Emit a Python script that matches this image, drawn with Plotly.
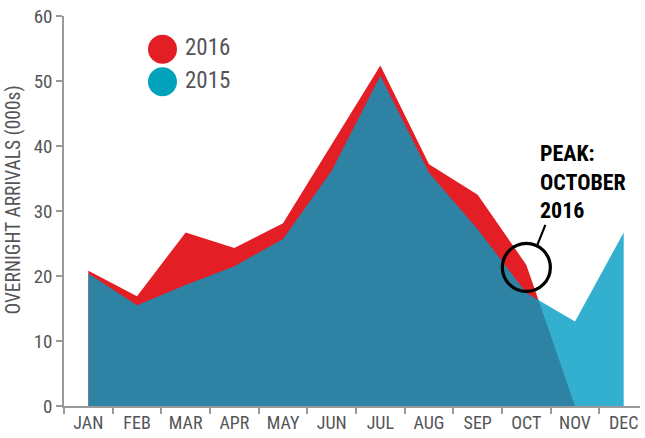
import plotly.graph_objects as go

months = ["JAN", "FEB", "MAR", "APR", "MAY", "JUN", "JUL", "AUG", "SEP", "OCT", "NOV", "DEC"]
arrivals_2016 = [20.8, 16.9, 26.7, 24.3, 28.1, 40.2, 52.4, 37.2, 32.5, 21.7, 0.0, None]
arrivals_2015 = [20.4, 15.5, 18.6, 21.5, 25.7, 36.2, 50.8, 35.9, 27.2, 17.4, 13.0, 26.7]
y_ticks = [0, 10, 20, 30, 40, 50, 60]

RED = "#e31e24"
TEAL_A = "rgba(0,155,195,0.8)"
LEGEND_TEAL = "#00a3bb"
GREY = "#555558"
AXIS = "#9a9a9a"
FONT = "Roboto Condensed, Liberation Sans Narrow, Arial Narrow, Roboto, sans-serif"

fig = go.Figure()
fig.add_trace(go.Scatter(x=months, y=arrivals_2016, mode="lines", fill="tozeroy",
                         line=dict(width=0, color=RED), fillcolor=RED, name="2016",
                         hoverinfo="skip"))
fig.add_trace(go.Scatter(x=months, y=arrivals_2015, mode="lines", fill="tozeroy",
                         line=dict(width=0, color=TEAL_A), fillcolor=TEAL_A, name="2015",
                         hoverinfo="skip"))

shapes = []
# legend circles
for yc, col in [(0.9145, RED), (0.8312, LEGEND_TEAL)]:
    shapes.append(dict(type="circle", xref="paper", yref="paper", xsizemode="pixel", ysizemode="pixel",
                       xanchor=0.171, yanchor=yc, x0=-14.5, x1=14.5, y0=-14.5, y1=14.5,
                       fillcolor=col, line=dict(width=0), layer="above"))
# peak circle around October 2016
oct_val = arrivals_2016[months.index("OCT")]
shapes.append(dict(type="circle", xref="x", yref="y", xsizemode="pixel", ysizemode="pixel",
                   xanchor="OCT", yanchor=oct_val, x0=-24, x1=24, y0=-26.5, y1=21.5,
                   line=dict(color="black", width=3.2), fillcolor="rgba(0,0,0,0)", layer="above"))
shapes.append(dict(type="line", xref="x", yref="y", xsizemode="pixel", ysizemode="pixel",
                   xanchor="OCT", yanchor=oct_val, x0=11, y0=20, x1=19, y1=40,
                   line=dict(color="black", width=2.2), layer="above"))

annotations = [
    dict(text="2016", xref="paper", yref="paper", x=0.2065, y=0.918, xanchor="left", yanchor="middle",
         showarrow=False, font=dict(family=FONT, size=23, color=GREY)),
    dict(text="2015", xref="paper", yref="paper", x=0.2065, y=0.835, xanchor="left", yanchor="middle",
         showarrow=False, font=dict(family=FONT, size=23, color=GREY)),
    dict(text="<b>PEAK:<br>OCTOBER<br>2016</b>", xref="paper", yref="paper", x=0.823, y=0.685,
         xanchor="left", yanchor="top", align="left", showarrow=False,
         font=dict(family=FONT, size=22, color="black")),
    dict(text="OVERNIGHT ARRIVALS (000s)", xref="paper", yref="paper", x=-0.087, y=0.529,
         xanchor="center", yanchor="middle", textangle=-90, showarrow=False,
         font=dict(family=FONT, size=19.5, color=GREY)),
]

fig.update_layout(
    width=645, height=438,
    margin=dict(l=64, r=5, t=9, b=28),
    paper_bgcolor="white", plot_bgcolor="white",
    showlegend=False,
    shapes=shapes, annotations=annotations,
    xaxis=dict(type="category", categoryorder="array", categoryarray=months,
               range=[-0.5, 11.335], tickson="boundaries", ticks="outside", ticklen=6,
               tickcolor=AXIS, tickwidth=1.5, showline=True, linecolor=AXIS, linewidth=1.5,
               showgrid=False, zeroline=False, ticklabeloverflow="allow",
               tickfont=dict(family=FONT, size=18, color=GREY)),
    yaxis=dict(range=[0, 60], tickvals=y_ticks, ticks="outside", ticklen=6,
               tickcolor=AXIS, tickwidth=1.5, showline=True, linecolor=AXIS, linewidth=1.5,
               showgrid=False, zeroline=False, ticklabeloverflow="allow",
               tickfont=dict(family=FONT, size=19, color=GREY)),
)

fig.write_html("out.html", config={"displayModeBar": False},
               post_script="document.body.style.margin='0';")
